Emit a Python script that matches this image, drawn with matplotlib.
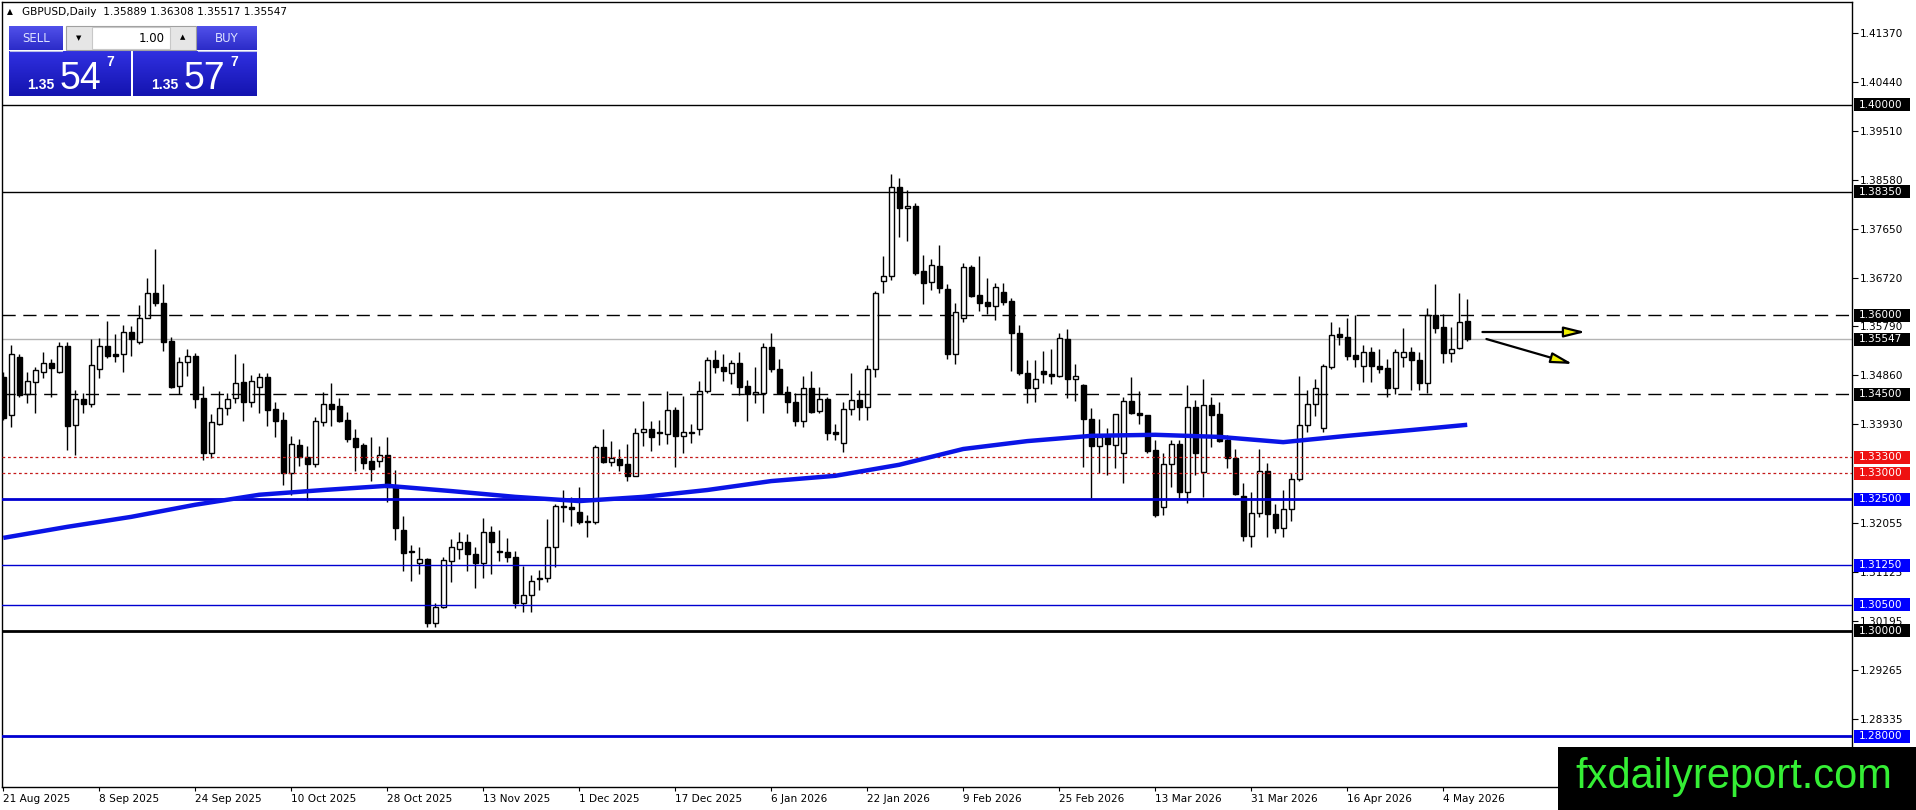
import numpy as np
import matplotlib
matplotlib.use('Agg')
import matplotlib.pyplot as plt
from matplotlib.patches import Rectangle
from matplotlib.transforms import blended_transform_factory

# GBPUSD daily candles, 21 Aug 2025 .. 7 May 2026
opens = [1.3483, 1.3411, 1.3521, 1.3451, 1.3473, 1.3492, 1.3510, 1.3492, 1.3542, 1.3392,
         1.3441, 1.3432, 1.3498, 1.3542, 1.3527, 1.3527, 1.3568, 1.3549, 1.3595, 1.3643,
         1.3624, 1.3551, 1.3466, 1.3511, 1.3523, 1.3443, 1.3338, 1.3394, 1.3424, 1.3443,
         1.3473, 1.3435, 1.3464, 1.3483, 1.3422, 1.3401, 1.3300, 1.3354, 1.3331, 1.3318,
         1.3397, 1.3432, 1.3428, 1.3401, 1.3367, 1.3354, 1.3323, 1.3323, 1.3335, 1.3274,
         1.3192, 1.3152, 1.3129, 1.3137, 1.3015, 1.3046, 1.3133, 1.3156, 1.3169, 1.3146,
         1.3129, 1.3188, 1.3152, 1.3150, 1.3141, 1.3053, 1.3068, 1.3101, 1.3101, 1.3160,
         1.3238, 1.3236, 1.3226, 1.3209, 1.3207, 1.3350, 1.3321, 1.3327, 1.3318, 1.3295,
         1.3378, 1.3384, 1.3378, 1.3375, 1.3420, 1.3371, 1.3378, 1.3384, 1.3456, 1.3515,
         1.3502, 1.3490, 1.3509, 1.3466, 1.3451, 1.3452, 1.3540, 1.3498, 1.3454, 1.3435,
         1.3399, 1.3462, 1.3418, 1.3441, 1.3378, 1.3357, 1.3422, 1.3439, 1.3426, 1.3498,
         1.3665, 1.3675, 1.3844, 1.3804, 1.3808, 1.3684, 1.3663, 1.3694, 1.3650, 1.3527,
         1.3595, 1.3692, 1.3639, 1.3625, 1.3618, 1.3645, 1.3627, 1.3567, 1.3490, 1.3462,
         1.3494, 1.3489, 1.3485, 1.3555, 1.3479, 1.3468, 1.3403, 1.3352, 1.3369, 1.3354,
         1.3338, 1.3437, 1.3414, 1.3411, 1.3344, 1.3236, 1.3318, 1.3356, 1.3264, 1.3426,
         1.3302, 1.3430, 1.3413, 1.3363, 1.3329, 1.3257, 1.3181, 1.3224, 1.3304, 1.3222,
         1.3196, 1.3232, 1.3289, 1.3392, 1.3432, 1.3386, 1.3502, 1.3565, 1.3559, 1.3525,
         1.3504, 1.3530, 1.3504, 1.3500, 1.3462, 1.3521, 1.3530, 1.3515, 1.3471, 1.3601,
         1.3578, 1.3529, 1.3538, 1.35889]
highs = [1.3492, 1.3544, 1.3527, 1.3492, 1.3502, 1.3530, 1.3517, 1.3549, 1.3549, 1.3458,
         1.3452, 1.3555, 1.3557, 1.3589, 1.3565, 1.3582, 1.3580, 1.3620, 1.3671, 1.3726,
         1.3660, 1.3559, 1.3521, 1.3536, 1.3529, 1.3466, 1.3413, 1.3456, 1.3452, 1.3527,
         1.3510, 1.3487, 1.3490, 1.3490, 1.3435, 1.3416, 1.3371, 1.3365, 1.3352, 1.3407,
         1.3454, 1.3471, 1.3443, 1.3416, 1.3384, 1.3357, 1.3369, 1.3352, 1.3369, 1.3306,
         1.3219, 1.3163, 1.3160, 1.3139, 1.3053, 1.3141, 1.3175, 1.3188, 1.3184, 1.3160,
         1.3215, 1.3200, 1.3192, 1.3177, 1.3152, 1.3123, 1.3106, 1.3116, 1.3213, 1.3241,
         1.3268, 1.3255, 1.3274, 1.3221, 1.3354, 1.3384, 1.3361, 1.3346, 1.3356, 1.3386,
         1.3437, 1.3399, 1.3401, 1.3456, 1.3426, 1.3447, 1.3394, 1.3475, 1.3521, 1.3534,
         1.3527, 1.3515, 1.3530, 1.3477, 1.3502, 1.3548, 1.3567, 1.3517, 1.3466, 1.3452,
         1.3485, 1.3494, 1.3464, 1.3445, 1.3394, 1.3435, 1.3490, 1.3458, 1.3506, 1.3646,
         1.3713, 1.3869, 1.3862, 1.3838, 1.3814, 1.3715, 1.3707, 1.3734, 1.3660, 1.3624,
         1.3700, 1.3696, 1.3713, 1.3671, 1.3662, 1.3662, 1.3633, 1.3582, 1.3515, 1.3515,
         1.3532, 1.3536, 1.3567, 1.3574, 1.3508, 1.3470, 1.3424, 1.3403, 1.3386, 1.3413,
         1.3445, 1.3483, 1.3456, 1.3411, 1.3363, 1.3338, 1.3363, 1.3363, 1.3468, 1.3439,
         1.3479, 1.3445, 1.3435, 1.3373, 1.3346, 1.3281, 1.3264, 1.3346, 1.3319, 1.3241,
         1.3268, 1.3300, 1.3485, 1.3458, 1.3479, 1.3508, 1.3587, 1.3578, 1.3595, 1.3601,
         1.3544, 1.3540, 1.3536, 1.3517, 1.3536, 1.3576, 1.3540, 1.3530, 1.3614, 1.3660,
         1.3603, 1.3578, 1.3643, 1.36308]
lows = [1.3401, 1.3388, 1.3445, 1.3433, 1.3414, 1.3481, 1.3445, 1.3490, 1.3344, 1.3335,
        1.3414, 1.3426, 1.3481, 1.3519, 1.3511, 1.3492, 1.3523, 1.3546, 1.3595, 1.3618,
        1.3532, 1.3462, 1.3451, 1.3485, 1.3424, 1.3325, 1.3329, 1.3392, 1.3411, 1.3433,
        1.3399, 1.3426, 1.3414, 1.3390, 1.3369, 1.3278, 1.3259, 1.3314, 1.3249, 1.3312,
        1.3390, 1.3390, 1.3397, 1.3359, 1.3304, 1.3308, 1.3285, 1.3312, 1.3245, 1.3173,
        1.3114, 1.3095, 1.3108, 1.3008, 1.3008, 1.3044, 1.3093, 1.3137, 1.3114, 1.3082,
        1.3101, 1.3108, 1.3133, 1.3131, 1.3044, 1.3036, 1.3036, 1.3078, 1.3093, 1.3122,
        1.3207, 1.3200, 1.3203, 1.3179, 1.3203, 1.3319, 1.3314, 1.3304, 1.3285, 1.3295,
        1.3352, 1.3342, 1.3354, 1.3356, 1.3312, 1.3338, 1.3357, 1.3373, 1.3452, 1.3490,
        1.3475, 1.3470, 1.3449, 1.3399, 1.3433, 1.3414, 1.3492, 1.3450, 1.3414, 1.3390,
        1.3388, 1.3414, 1.3414, 1.3363, 1.3363, 1.3340, 1.3411, 1.3401, 1.3401, 1.3483,
        1.3643, 1.3667, 1.3749, 1.3741, 1.3677, 1.3622, 1.3648, 1.3643, 1.3517, 1.3508,
        1.3587, 1.3635, 1.3608, 1.3603, 1.3591, 1.3620, 1.3494, 1.3487, 1.3433, 1.3435,
        1.3471, 1.3470, 1.3483, 1.3443, 1.3437, 1.3312, 1.3253, 1.3300, 1.3297, 1.3310,
        1.3281, 1.3412, 1.3394, 1.3338, 1.3217, 1.3221, 1.3274, 1.3253, 1.3243, 1.3297,
        1.3255, 1.3350, 1.3359, 1.3310, 1.3258, 1.3171, 1.3160, 1.3217, 1.3179, 1.3186,
        1.3179, 1.3209, 1.3285, 1.3378, 1.3409, 1.3378, 1.3498, 1.3544, 1.3515, 1.3502,
        1.3473, 1.3473, 1.3490, 1.3445, 1.3451, 1.3502, 1.3458, 1.3458, 1.3452, 1.3567,
        1.3510, 1.3511, 1.3536, 1.35517]
closes = [1.3405, 1.3527, 1.3449, 1.3475, 1.3496, 1.3510, 1.3500, 1.3542, 1.3390, 1.3441,
          1.3432, 1.3506, 1.3542, 1.3523, 1.3523, 1.3568, 1.3555, 1.3595, 1.3643, 1.3624,
          1.3549, 1.3464, 1.3511, 1.3523, 1.3441, 1.3338, 1.3397, 1.3424, 1.3441, 1.3471,
          1.3435, 1.3475, 1.3483, 1.3420, 1.3399, 1.3300, 1.3356, 1.3331, 1.3318, 1.3399,
          1.3432, 1.3422, 1.3399, 1.3365, 1.3350, 1.3319, 1.3308, 1.3335, 1.3274, 1.3196,
          1.3148, 1.3150, 1.3137, 1.3015, 1.3046, 1.3135, 1.3160, 1.3169, 1.3146, 1.3129,
          1.3188, 1.3169, 1.3150, 1.3141, 1.3053, 1.3068, 1.3095, 1.3099, 1.3160, 1.3238,
          1.3236, 1.3232, 1.3207, 1.3207, 1.3350, 1.3321, 1.3329, 1.3316, 1.3295, 1.3376,
          1.3384, 1.3369, 1.3376, 1.3420, 1.3371, 1.3378, 1.3376, 1.3456, 1.3515, 1.3502,
          1.3494, 1.3509, 1.3464, 1.3451, 1.3454, 1.3540, 1.3498, 1.3452, 1.3435, 1.3399,
          1.3462, 1.3416, 1.3441, 1.3376, 1.3375, 1.3422, 1.3439, 1.3426, 1.3498, 1.3643,
          1.3675, 1.3844, 1.3804, 1.3808, 1.3681, 1.3662, 1.3696, 1.3652, 1.3527, 1.3606,
          1.3692, 1.3637, 1.3624, 1.3618, 1.3654, 1.3625, 1.3567, 1.3490, 1.3462, 1.3479,
          1.3489, 1.3485, 1.3557, 1.3479, 1.3485, 1.3403, 1.3352, 1.3369, 1.3356, 1.3413,
          1.3437, 1.3414, 1.3411, 1.3342, 1.3221, 1.3318, 1.3356, 1.3264, 1.3426, 1.3338,
          1.3430, 1.3411, 1.3361, 1.3329, 1.3260, 1.3181, 1.3224, 1.3304, 1.3222, 1.3196,
          1.3232, 1.3289, 1.3392, 1.3432, 1.3462, 1.3504, 1.3563, 1.3559, 1.3523, 1.3517,
          1.3530, 1.3504, 1.3498, 1.3462, 1.3530, 1.3530, 1.3515, 1.3471, 1.3601, 1.3576,
          1.3529, 1.3536, 1.3587, 1.35547]

# moving average (blue), sampled every 8 bars
ma_bars = [0, 8, 16, 24, 32, 40, 48, 56, 64, 72, 80, 88, 96, 104, 112, 120, 128, 136,
           144, 152, 160, 168, 176, 183]
ma_vals = [1.3177, 1.3198, 1.3217, 1.3240, 1.3259, 1.3268, 1.3276, 1.3266, 1.3255, 1.3247,
           1.3255, 1.3268, 1.3285, 1.3295, 1.3316, 1.3346, 1.3361, 1.3371, 1.3373, 1.3369,
           1.3359, 1.3371, 1.3382, 1.3392]

date_labels = ['21 Aug 2025', '8 Sep 2025', '24 Sep 2025', '10 Oct 2025', '28 Oct 2025',
               '13 Nov 2025', '1 Dec 2025', '17 Dec 2025', '6 Jan 2026', '22 Jan 2026',
               '9 Feb 2026', '25 Feb 2026', '13 Mar 2026', '31 Mar 2026', '16 Apr 2026',
               '4 May 2026']
price_ticks = [1.41370, 1.40440, 1.39510, 1.38580, 1.37650, 1.36720, 1.35790, 1.34860,
               1.33930, 1.32055, 1.31125, 1.30195, 1.29265, 1.28335]

black_levels = [1.40000, 1.38350]
dashed_levels = [1.36000, 1.34500]
red_levels = [1.33300, 1.33000]
blue_thick_levels = [1.32500, 1.28000]
blue_thin_levels = [1.31250, 1.30500]
base_level = 1.30000
bid = 1.35547

tags_black = [1.40000, 1.38350, 1.36000, 1.35547, 1.34500, 1.30000]
tags_red = [1.33300, 1.33000]
tags_blue = [1.32500, 1.31250, 1.30500, 1.28000]

BLUE = '#0000d0'
W, H = 1916, 810
PX = 1.0 / 5260  # price per pixel

fig = plt.figure(figsize=(W / 100, H / 100), dpi=100)
fig.patch.set_facecolor('white')
ax = fig.add_axes([2 / W, 23 / H, 1850 / W, 785 / H])
ax.set_xlim(-0.16, 231.1)
ax.set_ylim(1.27034, 1.41958)

n = len(opens)
idx = np.arange(n)
o = np.array(opens)
c = np.array(closes)

# candles
ax.vlines(idx, lows, highs, color='black', lw=1, zorder=2)
bull = c >= o
bottom = np.minimum(o, c)
height = np.maximum(np.abs(c - o), 0.00002)
ax.bar(idx, height, bottom=bottom, width=0.62,
       color=np.where(bull, 'white', 'black'), edgecolor='black', linewidth=1, zorder=2.2)

# horizontal levels
for p in black_levels:
    ax.axhline(p, color='black', lw=1, zorder=3)
for p in dashed_levels:
    ax.axhline(p, color='black', lw=1, dashes=(9.5, 5.5), zorder=3)
for p in red_levels:
    ax.axhline(p, color='#c41a1a', lw=0.9, dashes=(2.2, 2.2), zorder=3)
for p in blue_thick_levels:
    ax.axhline(p, color=BLUE, lw=2, zorder=3)
for p in blue_thin_levels:
    ax.axhline(p, color=BLUE, lw=1, zorder=3)
ax.axhline(base_level, color='black', lw=2, zorder=3)
ax.axhline(bid, color='#b4b4b4', lw=1, zorder=1.5)

# moving average
ax.plot(ma_bars, ma_vals, color='#0a14e6', lw=3.2, solid_capstyle='butt', zorder=4)

# arrows
ax.annotate('', xy=(197.8, 1.35684), xytext=(184.9, 1.35684),
            arrowprops=dict(arrowstyle='-|>,head_length=1.3,head_width=0.32',
                            fc='#f0f000', ec='black', lw=1.6, shrinkA=0, shrinkB=0), zorder=5)
ax.annotate('', xy=(196.2, 1.35076), xytext=(185.4, 1.35551),
            arrowprops=dict(arrowstyle='-|>,head_length=1.3,head_width=0.32',
                            fc='#f0f000', ec='black', lw=1.6, shrinkA=0, shrinkB=0), zorder=5)

# axes styling
for s in ax.spines.values():
    s.set_color('black')
    s.set_linewidth(1)
ax.yaxis.tick_right()
ax.set_yticks(price_ticks)
ax.set_yticklabels(['%.5f' % v for v in price_ticks])
ax.tick_params(axis='y', direction='out', length=4, pad=2, labelsize=7.6, colors='black')
ax.set_xticks(range(0, 12 * len(date_labels), 12))
ax.set_xticklabels(date_labels)
ax.tick_params(axis='x', direction='out', length=3, pad=2, labelsize=7.6, colors='black')
for lbl in ax.get_xticklabels():
    lbl.set_ha('left')

# price tags on the right scale
tr = blended_transform_factory(ax.transAxes, ax.transData)
def price_tag(p, col):
    ax.add_patch(Rectangle((1.0011, p - 6.5 * PX), 0.0303, 13 * PX, transform=tr,
                           facecolor=col, edgecolor='none', clip_on=False, zorder=6))
    ax.text(1.0036, p, '%.5f' % p, transform=tr, color='white', fontsize=7.6,
            ha='left', va='center', clip_on=False, zorder=7)

for p in tags_black:
    price_tag(p, 'black')
for p in tags_red:
    price_tag(p, '#ee1111')
for p in tags_blue:
    price_tag(p, '#0000ff')

# overlay in pixel coordinates: title, trade panel, watermark
ov = fig.add_axes([0, 0, 1, 1])
ov.set_xlim(0, W)
ov.set_ylim(H, 0)
ov.axis('off')

ov.text(7, 12, '\u25b2', fontsize=5.5, va='center', ha='left')
ov.text(22, 12, 'GBPUSD,Daily  1.35889 1.36308 1.35517 1.35547', fontsize=7.6,
        va='center', ha='left')

def grad_box(x0, y0, w, h, top, bot):
    g = np.linspace(0, 1, 32).reshape(-1, 1)
    t = np.array(matplotlib.colors.to_rgb(top))
    b = np.array(matplotlib.colors.to_rgb(bot))
    img = (t[None, None, :] * (1 - g[:, :, None]) + b[None, None, :] * g[:, :, None])
    ov.imshow(img, extent=(x0, x0 + w, y0 + h, y0), aspect='auto', zorder=2,
              interpolation='bilinear')

grad_box(9, 26, 54, 24, '#5050ea', '#2c2cc8')
grad_box(197, 26, 60, 24, '#5050ea', '#2c2cc8')
grad_box(9, 51, 122, 45, '#3030e0', '#1414b0')
grad_box(133, 51, 124, 45, '#3030e0', '#1414b0')
ov.add_patch(Rectangle((66, 26), 130, 24, facecolor='#e6e6e6', edgecolor='#a0a0a0',
                       lw=0.8, zorder=2))
ov.add_patch(Rectangle((92, 27), 78, 22, facecolor='white', edgecolor='#c8c8c8',
                       lw=0.8, zorder=3))
ov.text(79, 38, '\u25bc', fontsize=5, ha='center', va='center', zorder=4)
ov.text(183, 37, '\u25b2', fontsize=5, ha='center', va='center', zorder=4)
ov.text(165, 38, '1.00', fontsize=8.5, ha='right', va='center', zorder=4)
ov.text(36, 38, 'SELL', fontsize=8.5, color='#dde2ff', ha='center', va='center', zorder=4)
ov.text(227, 38, 'BUY', fontsize=8.5, color='#dde2ff', ha='center', va='center', zorder=4)
ov.plot([10, 62], [50.5, 50.5], color='#b8bce8', lw=0.8, zorder=4)
ov.plot([198, 256], [50.5, 50.5], color='#b8bce8', lw=0.8, zorder=4)

big_font = 'Liberation Sans'
for x0, big in [(27, '54'), (151, '57')]:
    ov.text(x0, 89, '1.35', fontsize=10, color='white', fontweight='bold',
            ha='left', va='baseline', family=big_font, zorder=4)
    ov.text(x0 + 33, 89, big, fontsize=27, color='white', ha='left', va='baseline',
            family=big_font, zorder=4)
    ov.text(x0 + 79, 66, '7', fontsize=10, color='white', fontweight='bold',
            ha='left', va='baseline', family=big_font, zorder=4)

ov.add_patch(Rectangle((1558, 747), 358, 63, facecolor='black', edgecolor='none', zorder=8))
ov.text(1575, 788, 'fxdailyreport.com', fontsize=30, color='#35ef35', family=big_font,
        ha='left', va='baseline', zorder=9)

ov.set_xlim(0, W)
ov.set_ylim(H, 0)

fig.savefig('out.png', dpi=100, facecolor='white')
